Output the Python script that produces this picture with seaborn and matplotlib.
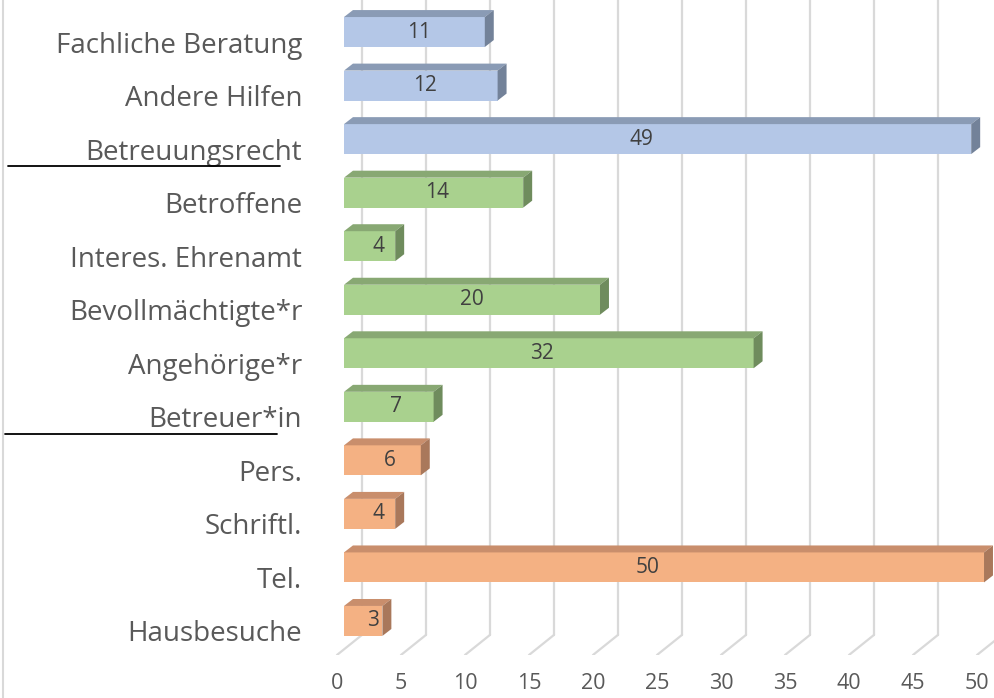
import matplotlib.pyplot as plt
import matplotlib.transforms as mtransforms
from matplotlib.lines import Line2D
from matplotlib.patches import Polygon
import pandas as pd
import seaborn as sns

categories = ["Fachliche Beratung", "Andere Hilfen", "Betreuungsrecht", "Betroffene",
              "Interes. Ehrenamt", "Bevollmächtigte*r", "Angehörige*r", "Betreuer*in",
              "Pers.", "Schriftl.", "Tel.", "Hausbesuche"]
values = [11, 12, 49, 14, 4, 20, 32, 7, 6, 4, 50, 3]
groups = ["Thema"] * 3 + ["Anfragende"] * 5 + ["Kontakt"] * 4
xticks = list(range(0, 51, 5))

# Farben: Vorderseite, Oberseite, Seite
front = {"Thema": "#B4C7E7", "Anfragende": "#A9D18E", "Kontakt": "#F4B183"}
top = {"Thema": "#8A9BB5", "Anfragende": "#88A873", "Kontakt": "#C98E6C"}
side = {"Thema": "#738299", "Anfragende": "#6F8C5D", "Kontakt": "#A9785B"}

df = pd.DataFrame({"category": categories, "value": values, "group": groups})

sns.set_theme(style="white")
plt.rcParams['font.family'] = ['Open Sans', 'DejaVu Sans']

fig = plt.figure(figsize=(9.94, 6.98), dpi=100)
ax = fig.add_axes([330 / 994, 43 / 698, 664 / 994, 655 / 698])

bar_h = 0.56
sns.barplot(data=df, x="value", y="category", hue="group", palette=front,
            dodge=False, width=bar_h, saturation=1, legend=False, ax=ax,
            edgecolor="none", zorder=3)

# 3D-Tiefe in Dateneinheiten
dx, dy = 0.70, 0.13
back_dx, floor_back, floor_front, front_dx = 1.41, 11.26, 11.636, -0.55

ax.set_xlim(-1.094, 50.78)
ax.set_ylim(floor_front, -0.598)

# Gitterlinien (Rückwand + Boden)
for v in xticks:
    ax.plot([v + back_dx, v + back_dx], [-0.598, floor_back], color="#D9D9D9", lw=1.6, zorder=1)
    ax.plot([v + back_dx, v + front_dx], [floor_back, floor_front], color="#D9D9D9", lw=1.6, zorder=1)

for p in list(ax.patches):
    y0 = p.get_y()
    h = p.get_height()
    w = p.get_width()
    idx = int(round(y0 + h / 2))
    g = groups[idx]
    ax.add_patch(Polygon([(0, y0), (w, y0), (w + dx, y0 - dy), (dx, y0 - dy)],
                         closed=True, facecolor=top[g], edgecolor="none", zorder=3))
    ax.add_patch(Polygon([(w, y0), (w + dx, y0 - dy), (w + dx, y0 + h - dy), (w, y0 + h)],
                         closed=True, facecolor=side[g], edgecolor="none", zorder=3))
    ax.text(0.86 + 0.457 * w, idx, str(values[idx]), ha="center", va="center",
            fontsize=15, color="#404040", zorder=5)

ax.set_xticks(xticks)
ax.set_xlabel("")
ax.set_ylabel("")
for s in ax.spines.values():
    s.set_visible(False)
ax.tick_params(axis="x", length=0, pad=13, labelsize=15.5, labelcolor="#595959")
ax.tick_params(axis="y", length=0, pad=20, labelsize=20, labelcolor="#595959")

for lab in ax.get_xticklabels():
    lab.set_transform(lab.get_transform() + mtransforms.ScaledTranslation(-0.07, 0, fig.dpi_scale_trans))
for lab in ax.get_yticklabels():
    lab.set_transform(lab.get_transform() + mtransforms.ScaledTranslation(0, -0.10, fig.dpi_scale_trans))

# Trennlinien zwischen den Gruppen
blend = mtransforms.blended_transform_factory(fig.transFigure, ax.transData)
fig.add_artist(Line2D([8 / 994, 280 / 994], [2.5, 2.5], transform=blend, color="black", lw=1.3))
fig.add_artist(Line2D([5 / 994, 277 / 994], [7.5, 7.5], transform=blend, color="black", lw=1.3))

# Rahmen links
fig.add_artist(Line2D([2.5 / 994, 2.5 / 994], [0, 1], transform=fig.transFigure, color="#D9D9D9", lw=1.5))

fig.savefig("out.png", dpi=100)
